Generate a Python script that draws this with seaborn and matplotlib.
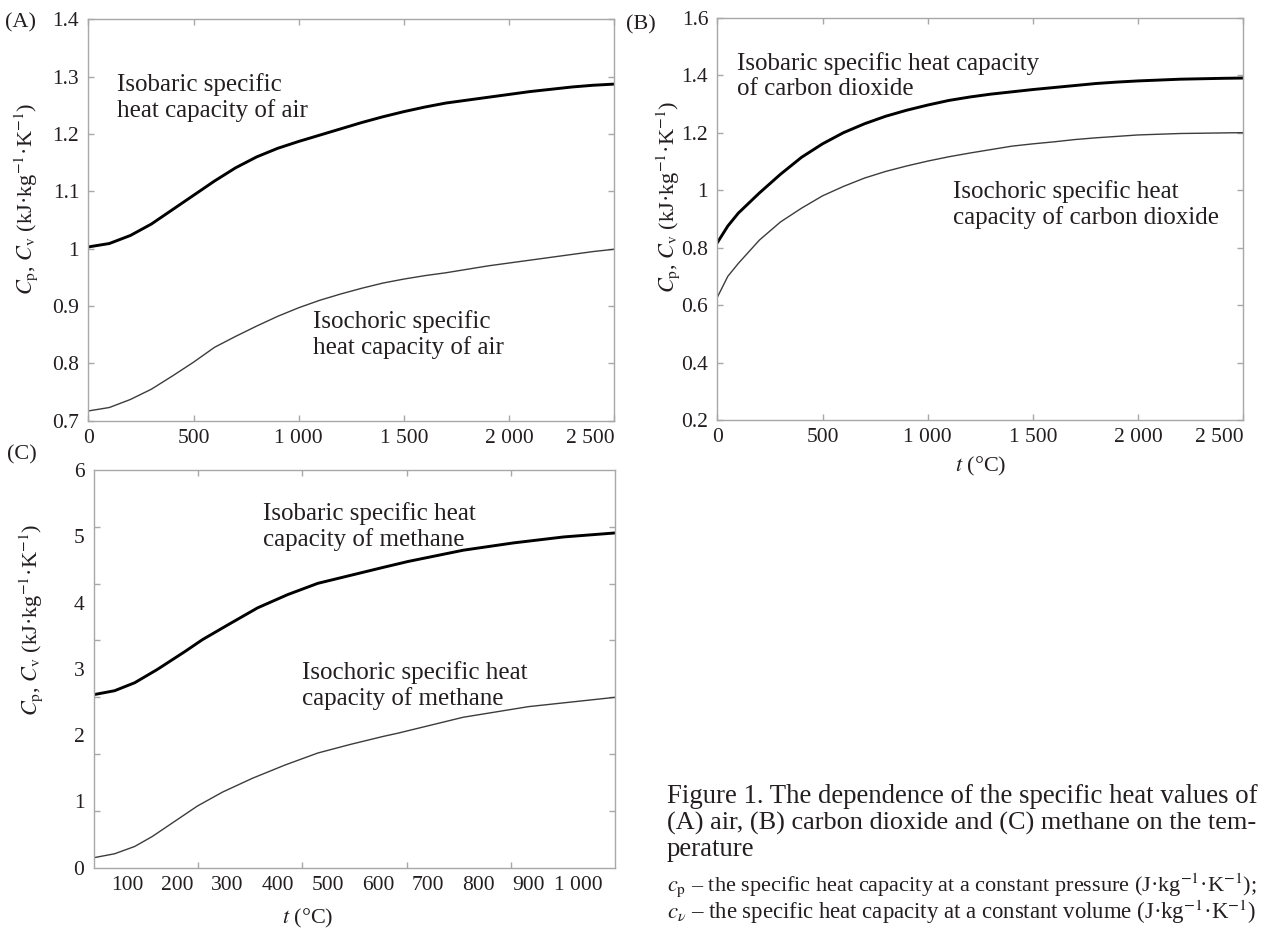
import numpy as np
import pandas as pd
import matplotlib
matplotlib.use("Agg")
import matplotlib.pyplot as plt
import seaborn as sns
from matplotlib.ticker import FixedLocator

# ---------------- data ----------------
# (A) air, temperature in degC
air_t = [0, 100, 200, 300, 400, 500, 600, 700, 800, 900, 1000, 1100, 1200, 1300,
         1400, 1500, 1600, 1700, 1800, 1900, 2000, 2100, 2200, 2300, 2400, 2500]
air_cp = [1.003, 1.009, 1.023, 1.043, 1.068, 1.093, 1.118, 1.141, 1.160, 1.175, 1.187,
          1.198, 1.209, 1.220, 1.230, 1.239, 1.247, 1.254, 1.259, 1.264, 1.269, 1.274,
          1.278, 1.282, 1.285, 1.287]
air_cv = [0.717, 0.723, 0.737, 0.755, 0.778, 0.802, 0.828, 0.847, 0.865, 0.882, 0.897,
          0.910, 0.921, 0.931, 0.940, 0.947, 0.953, 0.958, 0.964, 0.970, 0.975, 0.980,
          0.985, 0.990, 0.995, 0.999]

# (B) carbon dioxide
co2_t = [0, 50, 100, 200, 300, 400, 500, 600, 700, 800, 900, 1000, 1100, 1200, 1300,
         1400, 1500, 1600, 1700, 1800, 1900, 2000, 2200, 2400, 2500]
co2_cp = [0.817, 0.875, 0.920, 0.990, 1.055, 1.114, 1.161, 1.200, 1.231, 1.257, 1.278,
          1.296, 1.312, 1.324, 1.334, 1.342, 1.350, 1.357, 1.364, 1.371, 1.376, 1.380,
          1.386, 1.389, 1.390]
co2_cv_t = [0, 50, 100, 200, 300, 400, 500, 600, 700, 800, 900, 1000, 1100, 1200, 1300,
            1400, 1500, 1600, 1700, 1800, 1900, 2000, 2200, 2400, 2500]
co2_cv = [0.627, 0.700, 0.745, 0.826, 0.889, 0.937, 0.980, 1.013, 1.042, 1.065, 1.084,
          1.101, 1.116, 1.129, 1.141, 1.153, 1.161, 1.168, 1.176, 1.182, 1.187, 1.192,
          1.197, 1.199, 1.200]

# (C) methane (axis as labelled in the figure)
ch4_cp_t = [33, 75, 115, 160, 215, 250, 300, 360, 420, 480, 545, 610, 660, 770, 870, 970, 1072]
ch4_cp = [2.61, 2.67, 2.79, 2.99, 3.26, 3.44, 3.66, 3.92, 4.12, 4.29, 4.41, 4.53, 4.62,
          4.79, 4.90, 4.99, 5.05]
ch4_cv_t = [33, 75, 115, 150, 195, 240, 290, 350, 415, 480, 545, 610, 640, 770, 900, 1072]
ch4_cv = [0.15, 0.21, 0.32, 0.47, 0.70, 0.93, 1.14, 1.35, 1.55, 1.73, 1.86, 1.98, 2.03,
          2.27, 2.43, 2.57]

# tick labels
a_xticks = [0, 500, 1000, 1500, 2000, 2500]
a_xlabels = ["0", "500", "1 000", "1 500", "2 000", "2 500"]
a_yticks = [0.7, 0.8, 0.9, 1.0, 1.1, 1.2, 1.3, 1.4]
a_ylabels = ["0.7", "0.8", "0.9", "1", "1.1", "1.2", "1.3", "1.4"]
b_yticks = [0.2, 0.4, 0.6, 0.8, 1.0, 1.2, 1.4, 1.6]
b_ylabels = ["0.2", "0.4", "0.6", "0.8", "1", "1.2", "1.4", "1.6"]
c_xticks = [100, 200, 300, 400, 500, 600, 700, 800, 900, 1000]
c_xlabels = ["100", "200", "300", "400", "500", "600", "700", "800", "900", "1 000"]
c_yticks = [0, 1, 2, 3, 4, 5, 6]
c_ylabels = ["0", "1", "2", "3", "4", "5", "6"]

labels_air = ("Isobaric specific\nheat capacity of air", "Isochoric specific\nheat capacity of air")
labels_co2 = ("Isobaric specific heat capacity\nof carbon dioxide",
              "Isochoric specific heat\ncapacity of carbon dioxide")
labels_ch4 = ("Isobaric specific heat\ncapacity of methane",
              "Isochoric specific heat\ncapacity of methane")

# ---------------- style ----------------
sns.set_theme(style="ticks")
TEXT = "#231f20"
SPINE = "#a8a8a8"
plt.rcParams.update({
    "font.family": ["Liberation Serif", "DejaVu Serif"],
    "mathtext.fontset": "stix",
    "axes.edgecolor": SPINE,
    "axes.linewidth": 1.0,
    "xtick.color": SPINE,
    "ytick.color": SPINE,
    "xtick.labelcolor": TEXT,
    "ytick.labelcolor": TEXT,
    "xtick.direction": "in",
    "ytick.direction": "in",
    "xtick.top": True,
    "ytick.right": True,
    "xtick.major.size": 4,
    "ytick.major.size": 4,
    "xtick.major.width": 1.0,
    "ytick.major.width": 1.0,
    "xtick.labelsize": 15.5,
    "ytick.labelsize": 15.5,
    "axes.labelsize": 16,
    "axes.labelcolor": TEXT,
    "text.color": TEXT,
})

W, H = 1263, 932
fig = plt.figure(figsize=(W / 100, H / 100), dpi=100)


def px_axes(left, top, right, bottom):
    return fig.add_axes([left / W, 1 - bottom / H, (right - left) / W, (bottom - top) / H])


axA = px_axes(88.3, 19.3, 614.3, 420.7)
axB = px_axes(717.3, 17.7, 1243.3, 420.0)
axC = px_axes(93.5, 470.0, 615.3, 867.7)

CP_KW = dict(color="black", linewidth=2.1)
CV_KW = dict(color="#3c3c3c", linewidth=1.0)


def draw(ax, t1, y1, t2, y2):
    d1 = pd.DataFrame({"t": t1, "c": y1})
    d2 = pd.DataFrame({"t": t2, "c": y2})
    sns.lineplot(data=d1, x="t", y="c", ax=ax, estimator=None, **CP_KW)
    sns.lineplot(data=d2, x="t", y="c", ax=ax, estimator=None, **CV_KW)
    ax.set_xlabel("")
    ax.set_ylabel("")


draw(axA, air_t, air_cp, air_t, air_cv)
draw(axB, co2_t, co2_cp, co2_cv_t, co2_cv)
draw(axC, ch4_cp_t, ch4_cp, ch4_cv_t, ch4_cv)

YLAB = r"$C_{\mathrm{p}}$, $C_{\mathrm{v}}$ (kJ·kg$^{-1}$·K$^{-1}$)"
XLAB = r"$t$ (°C)"

# Panel A
axA.set_xlim(0, 2500)
axA.set_ylim(0.7, 1.4)
axA.set_xticks(a_xticks, a_xlabels)
axA.set_yticks(a_yticks, a_ylabels)
axA.set_ylabel(YLAB)
axA.yaxis.set_label_coords(-0.092, 0.552)

# Panel B
axB.set_xlim(0, 2500)
axB.set_ylim(0.2, 1.6)
axB.set_xticks(a_xticks, a_xlabels)
axB.set_yticks(b_yticks, b_ylabels)
axB.set_ylabel(YLAB)
axB.yaxis.set_label_coords(-0.067, 0.554)
axB.set_xlabel(XLAB)
axB.xaxis.set_label_coords(0.5, -0.087)

# Panel C: labels as printed, tick marks at equal divisions
axC.set_xlim(33, 1073)
axC.set_ylim(0, 6)
axC.set_xticks(c_xticks, c_xlabels)
axC.set_yticks(c_yticks, c_ylabels)
axC.tick_params(which="major", length=0)
axC.xaxis.set_minor_locator(FixedLocator(np.linspace(33, 1073, 6)[1:-1]))
axC.yaxis.set_minor_locator(FixedLocator(np.linspace(0, 6, 8)[1:-1]))
axC.tick_params(which="minor", length=4, width=1.0, color=SPINE, direction="in",
                top=True, right=True)
axC.set_ylabel(YLAB)
axC.yaxis.set_label_coords(-0.092, 0.623)
axC.set_xlabel(XLAB)
axC.xaxis.set_label_coords(0.411, -0.099)

for ax in (axA, axB, axC):
    ax.tick_params(axis="x", pad=6)
    ax.tick_params(axis="y", pad=6.5)
    for s in ax.spines.values():
        s.set_visible(True)
        s.set_color(SPINE)

# last x label of A and B right-aligned at the frame end
for ax in (axA, axB):
    ax.get_xticklabels()[-1].set_horizontalalignment("right")

# ---------------- annotations ----------------
ANN = 18


def ftext(x, y, s, **kw):
    return fig.text(x / W, 1 - y / H, s, **kw)


# y = baseline of the second (last) line of each annotation
LS = 1.18
ftext(117, 117, labels_air[0], fontsize=ANN, va="baseline", linespacing=LS)
ftext(313, 354, labels_air[1], fontsize=ANN, va="baseline", linespacing=LS)
ftext(737, 95, labels_co2[0], fontsize=ANN, va="baseline", linespacing=LS)
ftext(953, 224, labels_co2[1], fontsize=ANN, va="baseline", linespacing=LS)
ftext(263, 546, labels_ch4[0], fontsize=ANN, va="baseline", linespacing=LS)
ftext(302, 705, labels_ch4[1], fontsize=ANN, va="baseline", linespacing=LS)

# panel letters
ftext(5, 23, "(A)", fontsize=16, va="center")
ftext(626, 25, "(B)", fontsize=16, va="center")
ftext(7, 455, "(C)", fontsize=16, va="center")

# ---------------- caption ----------------
renderer = fig.canvas.get_renderer()


def fit(x, y, s, width, size):
    t = ftext(x, y, s, fontsize=size, va="baseline")
    w = t.get_window_extent(renderer=renderer).width
    t.set_fontsize(size * width / w)
    return t


cap1 = fit(667, 803, "Figure 1. The dependence of the specific heat values of", 591, 16)
cap2 = fit(667, 829.5, "(A) air, (B) carbon dioxide and (C) methane on the tem-", 591, 16)
ftext(667, 856, "perature", fontsize=cap1.get_fontsize(), va="baseline")
fit(667, 891, r"$c_{\mathrm{p}}$ – the specific heat capacity at a constant pressure (J·kg$^{-1}$·K$^{-1}$);", 593, 14)
fit(667, 919, r"$c_{\nu}$ – the specific heat capacity at a constant volume (J·kg$^{-1}$·K$^{-1}$)", 591, 14)

fig.savefig("out.png", dpi=100)
